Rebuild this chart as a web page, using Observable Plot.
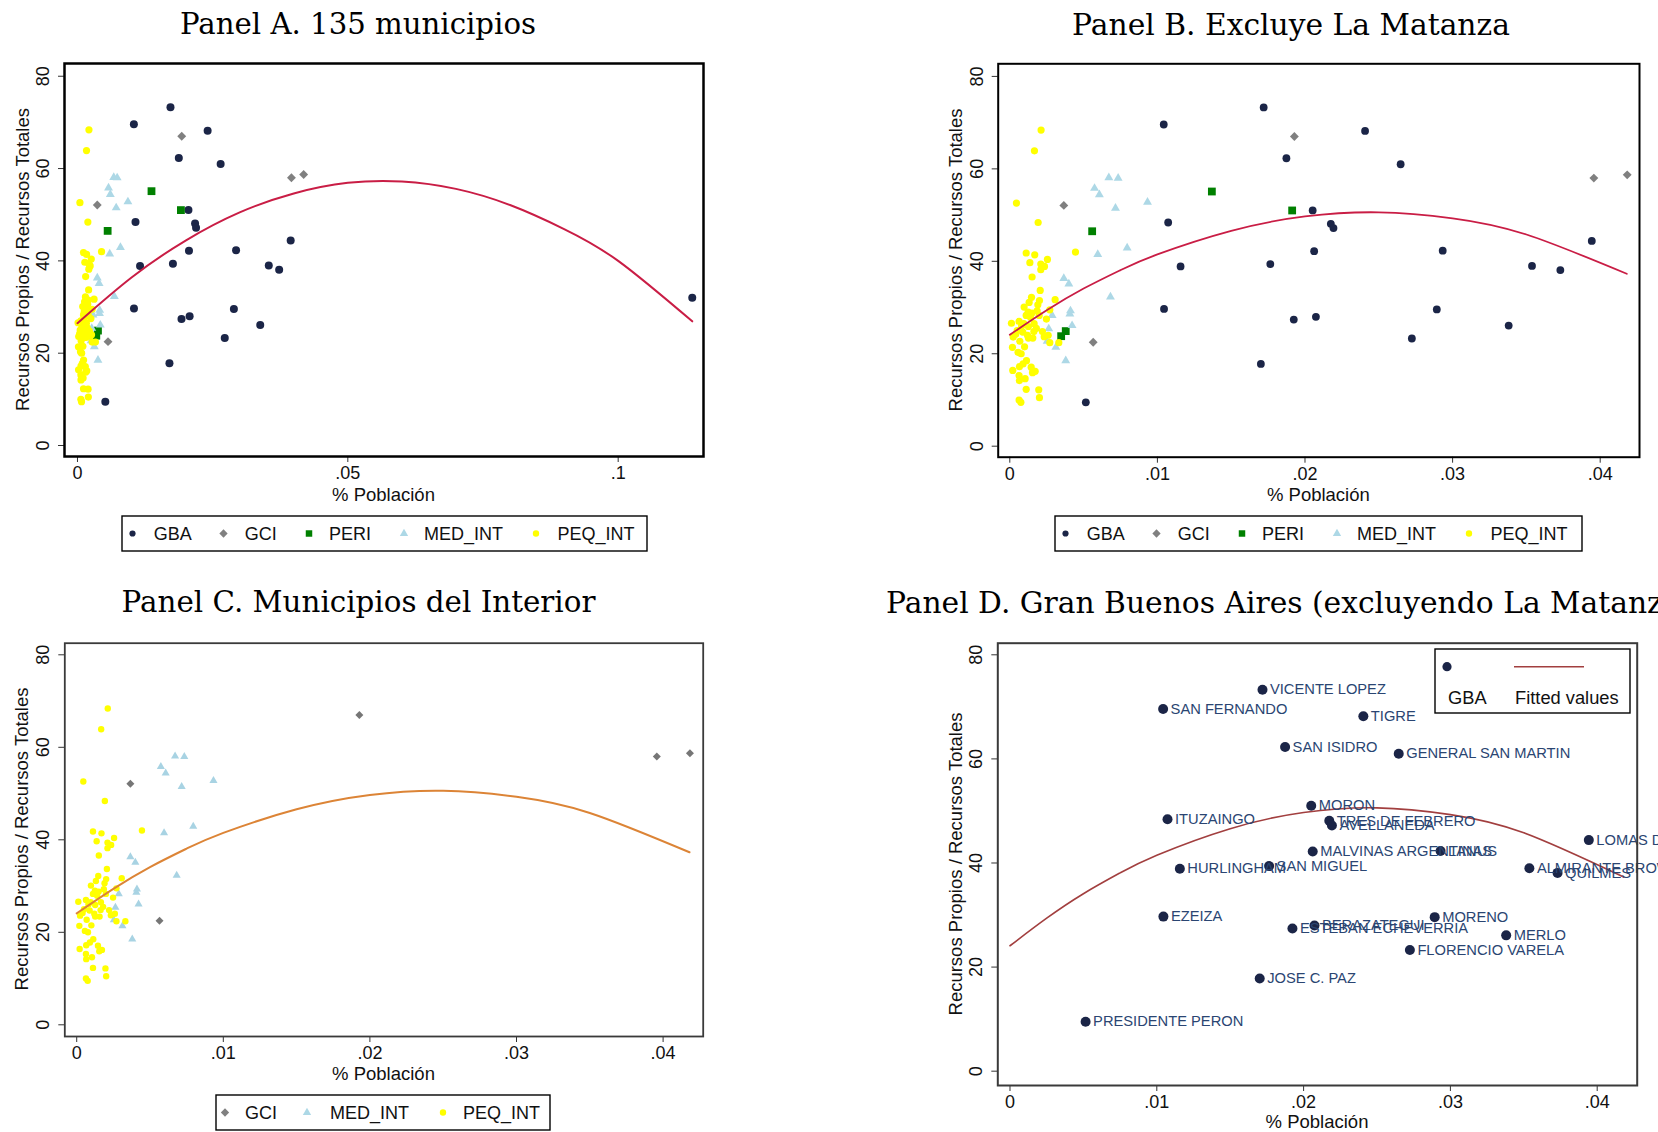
<!DOCTYPE html>
<html><head><meta charset="utf-8">
<script src="https://cdn.jsdelivr.net/npm/d3@7"></script>
<script src="https://cdn.jsdelivr.net/npm/@observablehq/plot@0.6"></script>
<style>
html,body{margin:0;padding:0;background:#fff;}
#page{position:relative;width:1658px;height:1132px;overflow:hidden;background:#fff;font-family:"Liberation Sans",Arial,sans-serif;}
#page svg{overflow:visible;}
</style></head><body><div id="page"></div>
<script>
// ---------------- DATA ----------------
const gbaNames = ["VICENTE LOPEZ","SAN FERNANDO","TIGRE","SAN ISIDRO","GENERAL SAN MARTIN","MORON","ITUZAINGO","TRES DE FEBRERO","AVELLANEDA","MALVINAS ARGENTINAS","LANUS","LOMAS DE ZAMORA","HURLINGHAM","SAN MIGUEL","ALMIRANTE BROWN","QUILMES","EZEIZA","MORENO","BERAZATEGUI","ESTEBAN ECHEVERRIA","MERLO","FLORENCIO VARELA","JOSE C. PAZ","PRESIDENTE PERON","LA MATANZA"];
const gbaX = [0.0172,0.01043,0.02407,0.01874,0.02648,0.02052,0.01073,0.02175,0.02193,0.02062,0.02933,0.03943,0.01157,0.01765,0.03538,0.0373,0.01045,0.02893,0.02074,0.01924,0.0338,0.02724,0.01701,0.00515,0.1137];
const gbaY = [73.3,69.6,68.2,62.3,61.0,51.0,48.4,48.1,47.2,42.2,42.3,44.4,38.9,39.4,39.0,38.1,29.7,29.6,28.0,27.4,26.1,23.3,17.8,9.5,32.0];

const gciX = [0.00366,0.00565,0.01928,0.03957,0.04183];
const gciY = [52.1,22.5,67.0,58.0,58.7];

const periX = [0.00558,0.01369,0.01913,0.00348,0.00379];
const periY = [46.5,55.1,51.0,23.8,24.9];

const medX = [0.00574,0.00607,0.00671,0.00734,0.00716,0.00933,0.00596,0.00795,0.00366,0.004,0.00682,0.00411,0.00407,0.00287,0.00422,0.00264,0.00253,0.00312,0.00379];
const medY = [55.8,54.4,58.1,58.0,51.5,52.8,41.5,42.9,36.3,35.1,32.3,29.3,28.6,28.3,26.1,25.4,22.7,21.4,18.5];

const peqX = [0.00212,0.00167,0.00045,0.00192,0.00445,0.00111,0.00169,0.00136,0.0021,0.00235,0.0021,0.00255,0.00151,0.00206,0.00147,0.00307,0.00201,0.00131,0.00097,0.00124,0.00185,0.00271,0.00199,0.00111,0.00248,0.0014,0.00063,0.00011,0.00095,0.00126,0.00165,0.0005,0.00088,0.00163,0.00221,0.00023,0.00126,0.00156,0.00233,0.00271,0.00332,0.00068,0.00018,0.00056,0.00077,0.00113,0.0009,0.00065,0.00145,0.0002,0.00172,0.00154,0.00063,0.00065,0.00104,0.00111,0.00196,0.00201,0.00063,0.00075,0.0008,0.0012,0.0018,0.0015,0.0004,0.001,0.0019,0.0026];
const peqY = [68.4,63.9,52.6,48.4,42.0,41.8,41.4,39.7,39.4,38.9,38.2,40.4,36.6,33.7,32.2,31.7,31.5,31.1,30.1,29.0,29.3,29.5,28.3,28.3,27.5,27.9,27.0,26.6,26.5,25.9,26.5,25.0,24.7,24.8,24.8,23.6,23.4,23.4,23.7,22.4,22.4,22.7,21.4,20.3,20.0,18.5,17.8,17.2,17.1,16.4,16.2,15.9,15.3,14.2,14.6,12.3,12.2,10.5,10.0,9.5,26.0,24.0,25.5,28.8,24.2,21.5,30.6,24.0];

// fitted-values curves
const fitAX = [0,0.01,0.02,0.03,0.04,0.05,0.06,0.07,0.08,0.09,0.10,0.1137];
const fitAY = [26.5,36.4,44.4,50.5,54.6,56.9,57.2,55.6,52.1,46.9,40.0,26.9];
const fitBX = [0,0.0025,0.005,0.0075,0.01,0.015,0.02,0.025,0.03,0.035,0.0418];
const fitBY = [24.1,29.4,34.1,38.1,41.5,46.6,49.7,50.6,49.3,45.8,37.3];

const xTicksA = [0,0.05,0.1];
const xTicksB = [0,0.01,0.02,0.03,0.04];
const yTicks = [0,20,40,60,80];
const groupLabels = ["GBA","GCI","PERI","MED_INT","PEQ_INT"];

// ---------------- build rows ----------------
const rows = (xs, ys, extra = {}) => xs.map((x, i) => ({x, y: ys[i], ...extra}));
const gba = gbaNames.map((n, i) => ({name: n, x: gbaX[i], y: gbaY[i]}));
const gbaNoLM = gba.filter(d => d.name !== "LA MATANZA");
const gci = rows(gciX, gciY), peri = rows(periX, periY), med = rows(medX, medY), peq = rows(peqX, peqY);
const fitA = rows(fitAX, fitAY), fitB = rows(fitBX, fitBY);

const C = {gba: "#1b2547", gci: "#808080", peri: "#008000", med: "#add8e6", peq: "#ffff00",
  fitAB: "#c91d45", fitC: "#dc8436", fitD: "#a23f3f", lab: "#2a4572"};
const FONT = "'Liberation Sans', Arial, sans-serif";
const fmt = d => d === 0 ? "0" : d3.format("~f")(d).replace(/^0\./, ".");
const page = document.getElementById("page");

function panel(s) {
  const p = Plot.plot({
    width: s.w, height: s.h,
    marginLeft: s.fl - s.x0, marginRight: s.x0 + s.w - s.fr,
    marginTop: s.ft - s.y0, marginBottom: s.y0 + s.h - s.fb,
    x: {domain: s.xd}, y: {domain: s.yd},
    style: {fontFamily: FONT, fontSize: "18px", color: "#111", background: "transparent", overflow: "visible"},
    marks: [
      Plot.axisX({ticks: s.xticks, tickFormat: fmt, tickSize: 6, tickPadding: 4, label: null, stroke: "#333", fill: "#111", fontSize: 18}),
      Plot.axisY({ticks: yTicks, tickSize: 6, tickPadding: 9.5, tickRotate: -90, label: null, stroke: "#333", fill: "#111", fontSize: 18}),
      ...s.marks,
      Plot.frame({stroke: s.frameStroke, strokeWidth: s.frameWidth})
    ]
  });
  p.style.position = "absolute"; p.style.left = s.x0 + "px"; p.style.top = s.y0 + "px";
  page.appendChild(p);
}

const dots = (data, symbol, fill, r) => Plot.dot(data, {x: "x", y: "y", symbol, fill, r, stroke: "none"});

// Panel A
panel({x0: 0, y0: 40, w: 720, h: 480, fl: 64, fr: 703, ft: 63, fb: 456,
  xd: [-0.0024, 0.11578], yd: [-2.38, 82.76], xticks: xTicksA, frameStroke: "#000", frameWidth: 2.5,
  marks: [dots(gba, "circle", C.gba, 4), dots(gci, "diamond2", C.gci, 4), dots(peri, "square", C.peri, 4.4),
    dots(med, "triangle", C.med, 3.3), dots(peq, "circle", C.peq, 3.6),
    Plot.line(fitA, {x: "x", y: "y", curve: "natural", stroke: C.fitAB, strokeWidth: 2})]});

// Panel B
panel({x0: 900, y0: 40, w: 758, h: 480, fl: 997.7, fr: 1639, ft: 63.3, fb: 456.7,
  xd: [-0.000786, 0.042663], yd: [-2.38, 82.73], xticks: xTicksB, frameStroke: "#000", frameWidth: 2,
  marks: [dots(gbaNoLM, "circle", C.gba, 3.9), dots(gci, "diamond2", C.gci, 4), dots(peri, "square", C.peri, 4.4),
    dots(med, "triangle", C.med, 3.3), dots(peq, "circle", C.peq, 3.6),
    Plot.line(fitB, {x: "x", y: "y", curve: "natural", stroke: C.fitAB, strokeWidth: 1.8})]});

// Panel C
panel({x0: 0, y0: 620, w: 720, h: 500, fl: 64.3, fr: 702.7, ft: 642.7, fb: 1036,
  xd: [-0.000812, 0.042735], yd: [-2.53, 82.51], xticks: xTicksB, frameStroke: "#3a3a3a", frameWidth: 1.8,
  marks: [dots(gci, "diamond2", "#767676", 3.6), dots(med, "triangle", "#a8d3e3", 3.0), dots(peq, "circle", C.peq, 3.2),
    Plot.line(fitB, {x: "x", y: "y", curve: "natural", stroke: C.fitC, strokeWidth: 2})]});

// Panel D
panel({x0: 900, y0: 620, w: 758, h: 512, fl: 997.3, fr: 1636.7, ft: 642.7, fb: 1085,
  xd: [-0.000831, 0.042725], yd: [-2.75, 82.23], xticks: xTicksB, frameStroke: "#3a3a3a", frameWidth: 2,
  marks: [Plot.line(fitB, {x: "x", y: "y", curve: "natural", stroke: C.fitD, strokeWidth: 1.6}),
    dots(gbaNoLM, "circle", C.gba, 5),
    Plot.text(gbaNoLM, {x: "x", y: "y", text: "name", textAnchor: "start", dx: 7.5, fill: C.lab, fontSize: 14.7})]});

// ---------------- overlay: titles, axis titles, legends ----------------
const ov = d3.select(page).append("svg").attr("width", 1658).attr("height", 1132)
  .style("position", "absolute").style("left", "0px").style("top", "0px").style("pointer-events", "none");

function title(txt, x, y, target, anchor = "middle", fixedSize) {
  const t = ov.append("text").attr("x", x).attr("y", y).attr("text-anchor", anchor).attr("dominant-baseline", "central")
    .style("font-family", "'DejaVu Serif', serif").style("font-size", "25px").attr("fill", "#000").text(txt);
  if (fixedSize) { t.style("font-size", fixedSize + "px"); return fixedSize; }
  const len = t.node().getComputedTextLength();
  const fs = 25 * target / len;
  t.style("font-size", fs + "px");
  return fs;
}
title("Panel A. 135 municipios", 358, 24, 356);
const fsB = title("Panel B. Excluye La Matanza", 1291, 24, 438);
title("Panel C. Municipios del Interior", 358.5, 602, 474);
title("Panel D. Gran Buenos Aires (excluyendo La Matanza)", 886, 602, 0, "start", fsB);

function ytitle(cx, cy) {
  ov.append("text").attr("transform", `translate(${cx},${cy}) rotate(-90)`).attr("text-anchor", "middle")
    .attr("dominant-baseline", "central").style("font-family", FONT).style("font-size", "18.5px").attr("fill", "#111")
    .text("Recursos Propios / Recursos Totales");
}
function xtitle(cx, cy) {
  ov.append("text").attr("x", cx).attr("y", cy).attr("text-anchor", "middle").attr("dominant-baseline", "central")
    .style("font-family", FONT).style("font-size", "18.5px").attr("fill", "#111").text("% Población");
}
ytitle(22, 259.5); ytitle(955.5, 260); ytitle(21.5, 839); ytitle(955, 864);
xtitle(383.5, 494); xtitle(1318.4, 494); xtitle(383.5, 1073.5); xtitle(1317, 1121);

const symFor = {GBA: [d3.symbolCircle, 30, C.gba], GCI: [d3.symbolDiamond2 || d3.symbolDiamond, 44, C.gci],
  PERI: [d3.symbolSquare, 42, C.peri], MED_INT: [d3.symbolTriangle, 30, C.med], PEQ_INT: [d3.symbolCircle, 32, C.peq]};
function legend(x, y, w, h, labels, symOff, txtOff) {
  ov.append("rect").attr("x", x).attr("y", y).attr("width", w).attr("height", h)
    .attr("fill", "#fff").attr("stroke", "#000").attr("stroke-width", 1.4);
  labels.forEach((lab, i) => {
    const [sym, size, col] = symFor[lab];
    ov.append("path").attr("d", d3.symbol(sym, size)()).attr("transform", `translate(${x + symOff[i]},${y + h / 2})`).attr("fill", col);
    ov.append("text").attr("x", x + txtOff[i]).attr("y", y + h / 2).attr("dominant-baseline", "central")
      .style("font-family", FONT).style("font-size", "18px").attr("fill", "#111").text(lab);
  });
}
const so5 = [10.5, 101.5, 187, 282, 414], to5 = [31.8, 122.8, 207, 302, 435.5];
legend(122, 516, 525, 35, groupLabels, so5, to5);
legend(1055, 516, 527, 35, groupLabels, so5, to5);
legend(216, 1095, 334, 35, ["GCI", "MED_INT", "PEQ_INT"], [9, 91, 227], [29, 114, 247]);

// Panel D inner legend
ov.append("rect").attr("x", 1435).attr("y", 649).attr("width", 195).attr("height", 64)
  .attr("fill", "#fff").attr("stroke", "#000").attr("stroke-width", 1.4);
ov.append("circle").attr("cx", 1447).attr("cy", 666.7).attr("r", 4.6).attr("fill", C.gba);
ov.append("line").attr("x1", 1514).attr("x2", 1584).attr("y1", 666.7).attr("y2", 666.7).attr("stroke", C.fitD).attr("stroke-width", 1.5);
ov.append("text").attr("x", 1448).attr("y", 697).attr("dominant-baseline", "central").style("font-family", FONT).style("font-size", "18.3px").attr("fill", "#111").text("GBA");
ov.append("text").attr("x", 1515).attr("y", 697).attr("dominant-baseline", "central").style("font-family", FONT).style("font-size", "18.3px").attr("fill", "#111").text("Fitted values");
</script></body></html>
